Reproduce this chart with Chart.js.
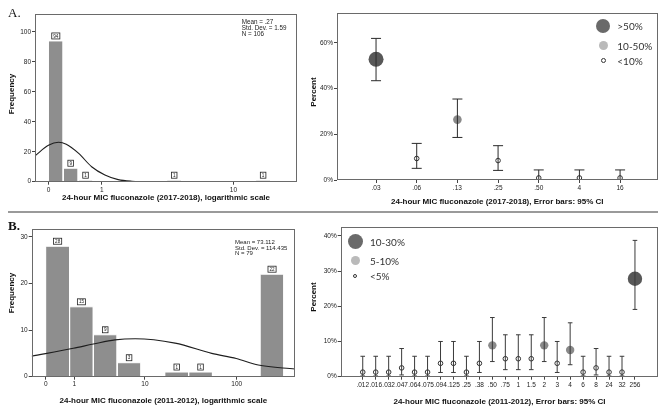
<!DOCTYPE html>
<html>
<head>
<meta charset="utf-8">
<script src="https://cdn.jsdelivr.net/npm/chart.js@4.4.0/dist/chart.umd.min.js"></script>
<style>
html,body{margin:0;padding:0;background:#fff;}
#wrap{position:relative;width:669px;height:409px;overflow:hidden;background:#fff;}
canvas{position:absolute;}
.t{position:absolute;white-space:nowrap;line-height:1;color:#222;transform:translateY(-50%);}
.r{position:absolute;white-space:nowrap;line-height:1;color:#111;transform:translate(-50%,-50%) rotate(-90deg);font-family:'Liberation Sans',Arial,sans-serif;font-weight:bold;font-size:8px;}
.dot{position:absolute;border-radius:50%;box-sizing:border-box;}
#sep{position:absolute;left:8px;top:211px;width:650px;height:1.5px;background:#9a9a9a;}
</style>
</head>
<body>
<div id="wrap">
  <div id="sep"></div>
  <canvas id="cA1" width="300" height="205" style="left:0;top:0;width:300px;height:205px"></canvas>
  <canvas id="cA2" width="369" height="212" style="left:300px;top:0;width:369px;height:212px"></canvas>
  <canvas id="cB1" width="300" height="197" style="left:0;top:212px;width:300px;height:197px"></canvas>
  <canvas id="cB2" width="369" height="197" style="left:300px;top:212px;width:369px;height:197px"></canvas>
</div>
<script>
// ---------------- DATA ----------------
// Panel A (2017-2018) histogram: bin edges in MIC units (mg/L) and frequencies
const histA_lo    = [0, 0.21, 0.47, 3.64, 13.7];
const histA_hi    = [0.21, 0.47, 0.78, 4.62, 16.8];
const histA_count = [94, 9, 1, 1, 1];
// normal curve (MIC, frequency)
const curveA_mic  = [-0.16, 0, 0.14, 0.26, 0.48, 0.75, 1.08, 1.47, 1.95, 2.74, 24.1];
const curveA_freq = [17.3, 24.3, 26.3, 25.0, 18.9, 10.0, 4.5, 1.4, 0.3, 0, 0];
const xTicksA_mic   = [0, 1, 10];
const xTickLabelsA  = ['0', '1', '10'];
const yTicksA_freq  = [0, 20, 40, 60, 80, 100];
const statsA = ['Mean = .27', 'Std. Dev. = 1.59', 'N = 106'];

// Panel A (2017-2018) percent per MIC with 95% CI
const catsA    = ['.03', '.06', '.13', '.25', '.50', '4', '16'];
const pctA     = [52.8, 9.4, 26.4, 8.5, 0.9, 0.9, 0.9];
const ciLowA   = [43.4, 5.1, 18.6, 4.2, 0.1, 0.1, 0.1];
const ciHighA  = [61.9, 16.0, 35.4, 15.0, 4.4, 4.4, 4.4];
const groupA   = [0, 2, 1, 2, 2, 2, 2];          // 0: >50%, 1: 10-50%, 2: <10%
const legendA  = ['>50%', '10-50%', '<10%'];
const yTicksA_pct = [0, 20, 40, 60];

// Panel B (2011-2012) histogram
const histB_lo    = [0, 0.78, 2.16, 4.62, 16.8, 30.6, 177];
const histB_hi    = [0.78, 2.16, 4.62, 9.0, 30.6, 55.2, 315];
const histB_count = [28, 15, 9, 3, 1, 1, 22];
const curveB_mic  = [-0.29, 0.95, 2.16, 4.33, 7.7, 21.8, 54.2, 99, 169, 412];
const curveB_freq = [4.4, 6.1, 7.0, 7.9, 8.15, 7.2, 5.0, 3.9, 2.5, 1.65];
const xTicksB_mic   = [0, 1, 10, 100];
const xTickLabelsB  = ['0', '1', '10', '100'];
const yTicksB_freq  = [0, 10, 20, 30];
const statsB = ['Mean = 73.112', 'Std. Dev. = 114.435', 'N = 79'];

// Panel B (2011-2012) percent per MIC with 95% CI
const catsB   = ['.012','.016','.032','.047','.064','.075','.094','.125','.25','.38','.50','.75','1','1.5','2','3','4','6','8','24','32','256'];
const pctB    = [1.3, 1.3, 1.3, 2.5, 1.3, 1.3, 3.8, 3.8, 1.3, 3.8, 8.9, 5.1, 5.1, 5.1, 8.9, 3.8, 7.6, 1.3, 2.5, 1.3, 1.3, 27.8];
const ciLowB  = [0.2, 0.2, 0.2, 0.5, 0.2, 0.2, 1.2, 1.2, 0.2, 1.2, 4.3, 2.0, 2.0, 2.0, 4.3, 1.2, 3.4, 0.2, 0.5, 0.2, 0.2, 19.1];
const ciHighB = [5.8, 5.8, 5.8, 8.0, 5.8, 5.8, 10.0, 10.0, 5.8, 10.0, 16.8, 11.9, 11.9, 11.9, 16.8, 10.0, 15.3, 5.8, 8.0, 5.8, 5.8, 38.7];
const groupB  = [2,2,2,2,2,2,2,2,2,2,1,2,2,2,1,2,1,2,2,2,2,0]; // 0: 10-30%, 1: 5-10%, 2: <5%
const legendB = ['10-30%', '5-10%', '<5%'];
const yTicksB_pct = [0, 10, 20, 30, 40];

// ---------------- HELPERS ----------------
const FONT = "'Liberation Sans', Arial, sans-serif";
const T = v => Math.log10(v + 1);   // SPSS "logarithmic scale" of MIC
const noPad = s => { s.paddingLeft = 0; s.paddingRight = 0; s.paddingTop = 0; s.paddingBottom = 0; };
const wrap = document.getElementById('wrap');

const framePlugin = {
  id: 'frame',
  afterDraw(c) {
    const a = c.chartArea, ctx = c.ctx;
    ctx.save();
    ctx.strokeStyle = '#6a6a6a';
    ctx.lineWidth = 1;
    const l = Math.round(a.left) + 0.5, t = Math.round(a.top) + 0.5;
    const r = Math.round(a.right) - 0.5, b = Math.round(a.bottom) - 0.5;
    ctx.strokeRect(l, t, r - l, b - t);
    ctx.restore();
  }
};

function histChart(id, cfg) {
  const datasets = [{
    data: cfg.curveMic.map((m, i) => ({ x: T(m), y: cfg.curveFreq[i] })),
    borderColor: '#1e1e1e', borderWidth: 1.1, pointRadius: 0, fill: false,
    cubicInterpolationMode: 'monotone'
  }];
  cfg.lo.forEach((lo, i) => {
    const a = T(lo), b = T(cfg.hi[i]), h = cfg.count[i];
    datasets.push({
      data: [{ x: a, y: 0 }, { x: a, y: h }, { x: b, y: h }, { x: b, y: 0 }],
      fill: 'origin', backgroundColor: '#8e8e8e', borderColor: '#ffffff',
      borderWidth: 1, pointRadius: 0, tension: 0
    });
  });
  const countPlugin = {
    id: 'counts',
    afterDatasetsDraw(c) {
      const xs = c.scales.x, ys = c.scales.y, ctx = c.ctx;
      ctx.save();
      ctx.font = '4.6px ' + FONT;
      ctx.textAlign = 'center';
      ctx.textBaseline = 'middle';
      cfg.lo.forEach((lo, i) => {
        const x = (xs.getPixelForValue(T(lo)) + xs.getPixelForValue(T(cfg.hi[i]))) / 2;
        const y = ys.getPixelForValue(cfg.count[i]);
        const s = String(cfg.count[i]);
        const w = Math.max(ctx.measureText(s).width + 3, 5.5), h = 6;
        const by = y - 2 - h;
        ctx.fillStyle = '#fff';
        ctx.fillRect(x - w / 2, by, w, h);
        ctx.strokeStyle = '#222';
        ctx.lineWidth = 0.8;
        ctx.strokeRect(x - w / 2, by, w, h);
        ctx.fillStyle = '#222';
        ctx.fillText(s, x, by + h / 2 + 0.3);
      });
      ctx.restore();
    }
  };
  return new Chart(document.getElementById(id), {
    type: 'line',
    data: { datasets },
    options: {
      responsive: false, animation: false, events: [],
      layout: { padding: cfg.pad },
      plugins: { legend: { display: false }, tooltip: { enabled: false } },
      scales: {
        x: {
          type: 'linear', min: T(cfg.xmin), max: T(cfg.xmax),
          afterBuildTicks: s => { s.ticks = cfg.xTicks.map(v => ({ value: T(v) })); },
          afterFit: s => { s.height = cfg.xh; noPad(s); },
          ticks: { callback: (v, i) => cfg.xLabels[i], autoSkip: false, maxRotation: 0, minRotation: 0,
                   padding: cfg.xtp, font: { family: FONT, size: 6.5 }, color: '#222' },
          grid: { drawOnChartArea: false, drawTicks: true, tickLength: 3, color: '#444' },
          border: { display: false },
          title: { display: true, text: cfg.title, color: '#111',
                   font: { family: FONT, size: 8, weight: 'bold' }, padding: { top: 0, bottom: cfg.tpad } }
        },
        y: {
          type: 'linear', min: 0, max: cfg.ymax,
          afterBuildTicks: s => { s.ticks = cfg.yTicks.map(v => ({ value: v })); },
          afterFit: s => { s.width = cfg.yw; noPad(s); },
          ticks: { callback: v => String(v), autoSkip: false, padding: 1,
                   font: { family: FONT, size: 6.5 }, color: '#222' },
          grid: { drawOnChartArea: false, drawTicks: true, tickLength: 3, color: '#444' },
          border: { display: false }
        }
      }
    },
    plugins: [framePlugin, countPlugin]
  });
}

function ciChart(id, cfg) {
  const eb = [];
  cfg.cats.forEach((c, i) => { eb.push({ x: i, y: cfg.lo[i] }, { x: i, y: cfg.hi[i] }, { x: i, y: null }); });
  const R = cfg.radius;
  const FILL = ['#585858', '#8a8a8a', 'rgba(0,0,0,0)'];
  const BORD = ['#585858', '#8a8a8a', '#333333'];
  const BW = [0, 0, 1];
  const datasets = [
    { data: eb, borderColor: cfg.ebColor, borderWidth: 1, pointStyle: 'line', pointRadius: cfg.capR,
      pointBorderWidth: 1, pointBorderColor: cfg.ebColor, spanGaps: false, fill: false, tension: 0 },
    { data: cfg.pct.map((v, i) => ({ x: i, y: v })), showLine: false, fill: false,
      pointRadius: cfg.group.map(g => R[g]),
      pointBackgroundColor: cfg.group.map(g => FILL[g]),
      pointBorderColor: cfg.group.map(g => BORD[g]),
      pointBorderWidth: cfg.group.map(g => BW[g]) }
  ];
  return new Chart(document.getElementById(id), {
    type: 'line',
    data: { datasets },
    options: {
      responsive: false, animation: false, events: [],
      layout: { padding: cfg.pad },
      plugins: { legend: { display: false }, tooltip: { enabled: false } },
      scales: {
        x: {
          type: 'linear', min: cfg.xmin, max: cfg.xmax,
          afterBuildTicks: s => { s.ticks = cfg.cats.map((c, i) => ({ value: i })); },
          afterFit: s => { s.height = cfg.xh; noPad(s); },
          ticks: { callback: (v, i) => cfg.cats[i], autoSkip: false, maxRotation: 0, minRotation: 0,
                   padding: cfg.xtp, font: { family: FONT, size: 6.5 }, color: '#222' },
          grid: { drawOnChartArea: false, drawTicks: true, tickLength: 3, color: '#444' },
          border: { display: false },
          title: { display: true, text: cfg.title, color: '#111',
                   font: { family: FONT, size: 8, weight: 'bold' }, padding: { top: 0, bottom: cfg.tpad } }
        },
        y: {
          type: 'linear', min: 0, max: cfg.ymax,
          afterBuildTicks: s => { s.ticks = cfg.yTicks.map(v => ({ value: v })); },
          afterFit: s => { s.width = cfg.yw; noPad(s); },
          ticks: { callback: v => v + '%', autoSkip: false, padding: 1,
                   font: { family: FONT, size: 6.5 }, color: '#222' },
          grid: { drawOnChartArea: false, drawTicks: true, tickLength: 3, color: '#444' },
          border: { display: false }
        }
      }
    },
    plugins: [framePlugin]
  });
}

// ---------------- CHARTS ----------------
histChart('cA1', {
  lo: histA_lo, hi: histA_hi, count: histA_count, curveMic: curveA_mic, curveFreq: curveA_freq,
  xTicks: xTicksA_mic, xLabels: xTickLabelsA, yTicks: yTicksA_freq,
  xmin: -0.16, xmax: 24.1, ymax: 112,
  pad: { left: 0, top: 14, right: 3, bottom: 0 }, yw: 35, xh: 23.3, xtp: 1.4, tpad: 2.2,
  title: '24-hour MIC fluconazole (2017-2018), logarithmic scale'
});
ciChart('cA2', {
  cats: catsA, pct: pctA, lo: ciLowA, hi: ciHighA, group: groupA, yTicks: yTicksA_pct,
  xmin: -0.96, xmax: 6.92, ymax: 73, radius: [7.5, 4.3, 2.3], capR: 5, ebColor: '#2a2a2a',
  pad: { left: 0, top: 13, right: 11.5, bottom: 0 }, yw: 37, xh: 32, xtp: 1.4, tpad: 5.5,
  title: '24-hour MIC fluconazole (2017-2018), Error bars: 95% CI'
});
histChart('cB1', {
  lo: histB_lo, hi: histB_hi, count: histB_count, curveMic: curveB_mic, curveFreq: curveB_freq,
  xTicks: xTicksB_mic, xLabels: xTickLabelsB, yTicks: yTicksB_freq,
  xmin: -0.287, xmax: 412, ymax: 31.7,
  pad: { left: 0, top: 17, right: 5, bottom: 0 }, yw: 31.7, xh: 32.3, xtp: 0.5, tpad: 3.2,
  title: '24-hour MIC fluconazole (2011-2012), logarithmic scale'
});
ciChart('cB2', {
  cats: catsB, pct: pctB, lo: ciLowB, hi: ciHighB, group: groupB, yTicks: yTicksB_pct,
  xmin: -1.7, xmax: 22.8, ymax: 42.5, radius: [7.2, 4.2, 2.3], capR: 2.3, ebColor: '#3a3a3a',
  pad: { left: 0, top: 15, right: 10.7, bottom: 0 }, yw: 40.7, xh: 32.3, xtp: 2.1, tpad: 2.5,
  title: '24-hour MIC fluconazole (2011-2012), Error bars: 95% CI'
});

// ---------------- ANNOTATIONS (HTML text) ----------------
function txt(s, x, y, style) {
  const d = document.createElement('div');
  d.className = 't'; d.textContent = s;
  d.style.left = x + 'px'; d.style.top = y + 'px';
  Object.assign(d.style, style || {});
  wrap.appendChild(d);
}
function rtxt(s, x, y) {
  const d = document.createElement('div');
  d.className = 'r'; d.textContent = s;
  d.style.left = x + 'px'; d.style.top = y + 'px';
  wrap.appendChild(d);
}
function dot(x, y, r, fill, border) {
  const d = document.createElement('div');
  d.className = 'dot';
  d.style.left = (x - r) + 'px'; d.style.top = (y - r) + 'px';
  d.style.width = (2 * r) + 'px'; d.style.height = (2 * r) + 'px';
  d.style.background = fill;
  if (border) d.style.border = '1px solid ' + border;
  wrap.appendChild(d);
}
const serif = "'Liberation Serif', 'DejaVu Serif', serif";
txt('A.', 8, 12.4, { fontFamily: serif, fontSize: '13px', color: '#111' });
txt('B.', 8, 225, { fontFamily: serif, fontSize: '13px', fontWeight: 'bold', color: '#111' });

statsA.forEach((s, i) => txt(s, 241.7, 21.7 + i * 6.2, { fontFamily: FONT, fontSize: '6.3px' }));
statsB.forEach((s, i) => txt(s, 235, 242.3 + i * 5.4, { fontFamily: FONT, fontSize: '6px' }));

rtxt('Frequency', 11.7, 93.5);
rtxt('Frequency', 11.7, 293.3);
rtxt('Percent', 313.5, 92);
rtxt('Percent', 313.5, 297);

// legends
const LEG_FILL = ['#6a6a6a', '#bababa', '#ffffff'];
const LEG_BORD = [null, null, '#333'];
const lato = "Lato, 'Open Sans', sans-serif";
[7, 4.5, 2.4].forEach((r, i) => {
  const y = [25.7, 45, 60.7][i];
  dot(603.3, y, r, LEG_FILL[i], LEG_BORD[i]);
  txt(legendA[i], 617.3, y + 0.6, { fontFamily: lato, fontSize: '10px', color: '#333' });
});
[7.5, 4.5, 2.4].forEach((r, i) => {
  const y = [241.7, 260.7, 276][i];
  dot(355, y, r, LEG_FILL[i], LEG_BORD[i]);
  txt(legendB[i], 370, y + 0.4, { fontFamily: lato, fontSize: '10px', color: '#333' });
});
</script>
</body>
</html>
